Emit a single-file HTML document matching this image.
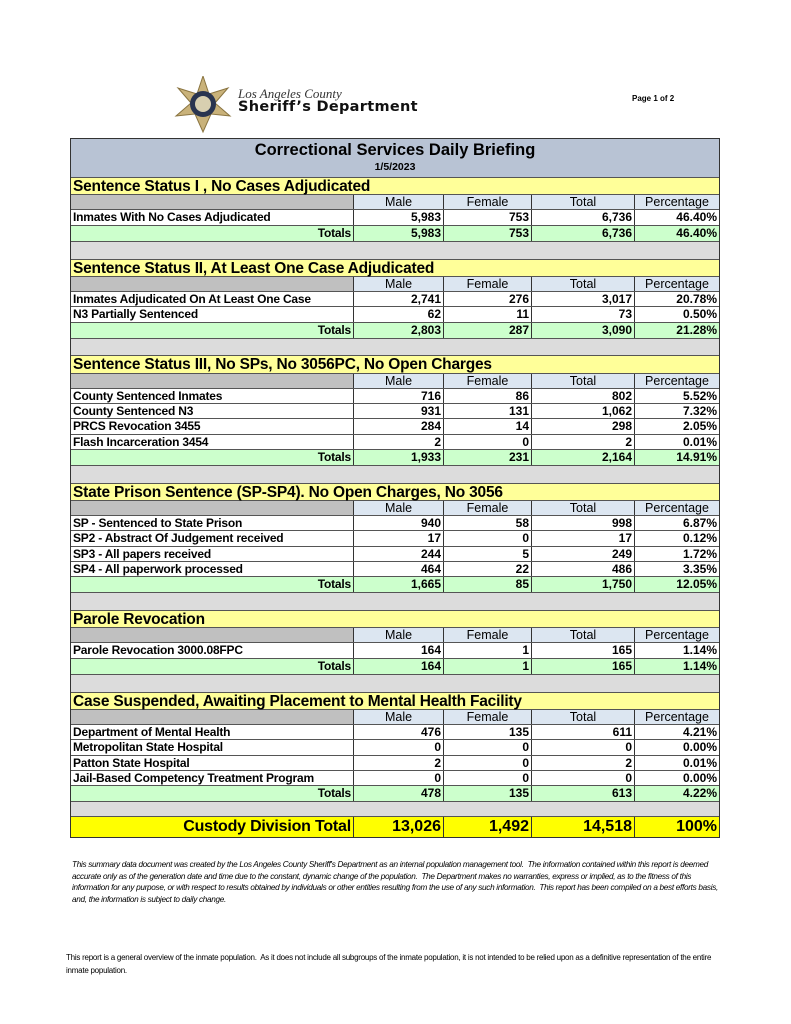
<!DOCTYPE html>
<html><head><meta charset="utf-8"><style>
body{margin:0;width:791px;height:1024px;background:#fff;position:relative;font-family:"Liberation Sans",Arial,sans-serif;overflow:hidden}
#t{position:absolute;left:70px;top:138px;width:650px;border:1px solid #333;box-sizing:border-box}
.r{display:grid;grid-template-columns:283px 90px 88px 103px 1fr;box-sizing:border-box;border-bottom:1px solid #555;font-size:12px;font-weight:bold;line-height:14px}
.r>div{border-right:1px solid #333;padding:0 2px;text-align:right;white-space:nowrap;overflow:hidden}
.r>div:last-child{border-right:none}
.r>div:first-child{text-align:left;letter-spacing:-0.2px}
.d{height:15.25px;background:#fff}
.h{height:15.25px;font-weight:normal;font-size:12.5px}
.h>div{background:#dce6f1;text-align:center!important}
.h>div:first-child{background:#c0c0c0}
.tot{height:16.2px;background:#ccffcc}
.tot>div:first-child{text-align:right!important}
.sp{height:16.7px;background:#dcdcdc;border-bottom:1px solid #555}
.sec{height:17.2px;background:#ffff99;font-size:15.5px;font-weight:bold;line-height:17px;padding-left:2px;border-bottom:1px solid #555;box-sizing:border-box;letter-spacing:-0.2px}
</style></head><body>
<svg style="position:absolute;left:172px;top:76px" width="62" height="58" viewBox="0 0 62 58">
<polygon points="31,0 37,18 56,12 43,27 58,40 39,38 31,56 23,38 4,40 19,27 6,12 25,18" fill="#c9b27a" stroke="#8a7440"/>
<circle cx="31" cy="28" r="13" fill="#2a3550"/><circle cx="31" cy="28" r="8" fill="#d8cfb0"/>
</svg>
<div style="position:absolute;left:238px;top:86px;font-family:'Liberation Serif',serif;font-style:italic;font-size:13px;color:#333">Los Angeles County</div>
<div style="position:absolute;left:238px;top:99px;font-family:'DejaVu Sans',sans-serif;font-weight:bold;font-size:14.5px;color:#111;letter-spacing:0.3px">Sheriff’s Department</div>
<div style="position:absolute;left:632px;top:94px;font-size:8px;font-weight:bold">Page 1 of 2</div>
<div id="t">
<div style="height:39px;background:#b8c3d4;border-bottom:1px solid #555;text-align:center;box-sizing:border-box"><div style="font-size:16.5px;font-weight:bold;padding-top:1px;line-height:20px">Correctional Services Daily Briefing</div><div style="font-size:10.5px;font-weight:bold;line-height:14px">1/5/2023</div></div>
<div class="sec">Sentence Status I , No Cases Adjudicated</div>
<div class="r h"><div></div><div>Male</div><div>Female</div><div>Total</div><div>Percentage</div></div>
<div class="r d"><div>Inmates With No Cases Adjudicated</div><div>5,983</div><div>753</div><div>6,736</div><div>46.40%</div></div>
<div class="r tot"><div>Totals</div><div>5,983</div><div>753</div><div>6,736</div><div>46.40%</div></div>
<div class="sp"></div>
<div class="sec">Sentence Status II, At Least One Case Adjudicated</div>
<div class="r h"><div></div><div>Male</div><div>Female</div><div>Total</div><div>Percentage</div></div>
<div class="r d"><div>Inmates Adjudicated On At Least One Case</div><div>2,741</div><div>276</div><div>3,017</div><div>20.78%</div></div>
<div class="r d"><div>N3 Partially Sentenced</div><div>62</div><div>11</div><div>73</div><div>0.50%</div></div>
<div class="r tot"><div>Totals</div><div>2,803</div><div>287</div><div>3,090</div><div>21.28%</div></div>
<div class="sp"></div>
<div class="sec">Sentence Status III, No SPs, No 3056PC, No Open Charges</div>
<div class="r h"><div></div><div>Male</div><div>Female</div><div>Total</div><div>Percentage</div></div>
<div class="r d"><div>County Sentenced Inmates</div><div>716</div><div>86</div><div>802</div><div>5.52%</div></div>
<div class="r d"><div>County Sentenced N3</div><div>931</div><div>131</div><div>1,062</div><div>7.32%</div></div>
<div class="r d"><div>PRCS Revocation 3455</div><div>284</div><div>14</div><div>298</div><div>2.05%</div></div>
<div class="r d"><div>Flash Incarceration 3454</div><div>2</div><div>0</div><div>2</div><div>0.01%</div></div>
<div class="r tot"><div>Totals</div><div>1,933</div><div>231</div><div>2,164</div><div>14.91%</div></div>
<div class="sp"></div>
<div class="sec">State Prison Sentence (SP-SP4). No Open Charges, No 3056</div>
<div class="r h"><div></div><div>Male</div><div>Female</div><div>Total</div><div>Percentage</div></div>
<div class="r d"><div>SP - Sentenced to State Prison</div><div>940</div><div>58</div><div>998</div><div>6.87%</div></div>
<div class="r d"><div>SP2 - Abstract Of Judgement received</div><div>17</div><div>0</div><div>17</div><div>0.12%</div></div>
<div class="r d"><div>SP3 - All papers received</div><div>244</div><div>5</div><div>249</div><div>1.72%</div></div>
<div class="r d"><div>SP4 - All paperwork processed</div><div>464</div><div>22</div><div>486</div><div>3.35%</div></div>
<div class="r tot"><div>Totals</div><div>1,665</div><div>85</div><div>1,750</div><div>12.05%</div></div>
<div class="sp"></div>
<div class="sec">Parole Revocation</div>
<div class="r h"><div></div><div>Male</div><div>Female</div><div>Total</div><div>Percentage</div></div>
<div class="r d"><div>Parole Revocation 3000.08FPC</div><div>164</div><div>1</div><div>165</div><div>1.14%</div></div>
<div class="r tot"><div>Totals</div><div>164</div><div>1</div><div>165</div><div>1.14%</div></div>
<div class="sp"></div>
<div class="sec">Case Suspended, Awaiting Placement to Mental Health Facility</div>
<div class="r h"><div></div><div>Male</div><div>Female</div><div>Total</div><div>Percentage</div></div>
<div class="r d"><div>Department of Mental Health</div><div>476</div><div>135</div><div>611</div><div>4.21%</div></div>
<div class="r d"><div>Metropolitan State Hospital</div><div>0</div><div>0</div><div>0</div><div>0.00%</div></div>
<div class="r d"><div>Patton State Hospital</div><div>2</div><div>0</div><div>2</div><div>0.01%</div></div>
<div class="r d"><div>Jail-Based Competency Treatment Program</div><div>0</div><div>0</div><div>0</div><div>0.00%</div></div>
<div class="r tot"><div>Totals</div><div>478</div><div>135</div><div>613</div><div>4.22%</div></div>
<div class="sp" style="height:14px"></div>
<div class="r" style="height:20px;background:#ffff00;font-size:16px;line-height:20px;border-bottom:none"><div style="text-align:right">Custody Division Total</div><div>13,026</div><div>1,492</div><div>14,518</div><div>100%</div></div>
</div>
<div style="position:absolute;left:72px;top:859px;width:650px;font-size:8.2px;font-style:italic;line-height:11.5px;letter-spacing:-0.3px">This summary data document was created by the Los Angeles County Sheriff's Department as an internal population management tool.&nbsp; The information contained within this report is deemed accurate only as of the generation date and time due to the constant, dynamic change of the population.&nbsp; The Department makes no warranties, express or implied, as to the fitness of this information for any purpose, or with respect to results obtained by individuals or other entities resulting from the use of any such information.&nbsp; This report has been compiled on a best efforts basis, and, the information is subject to daily change.</div>
<div style="position:absolute;left:66px;top:951px;width:660px;font-size:8px;line-height:13px;letter-spacing:-0.25px">This report is a general overview of the inmate population.&nbsp; As it does not include all subgroups of the inmate population, it is not intended to be relied upon as a definitive representation of the entire inmate population.</div>
</body></html>
